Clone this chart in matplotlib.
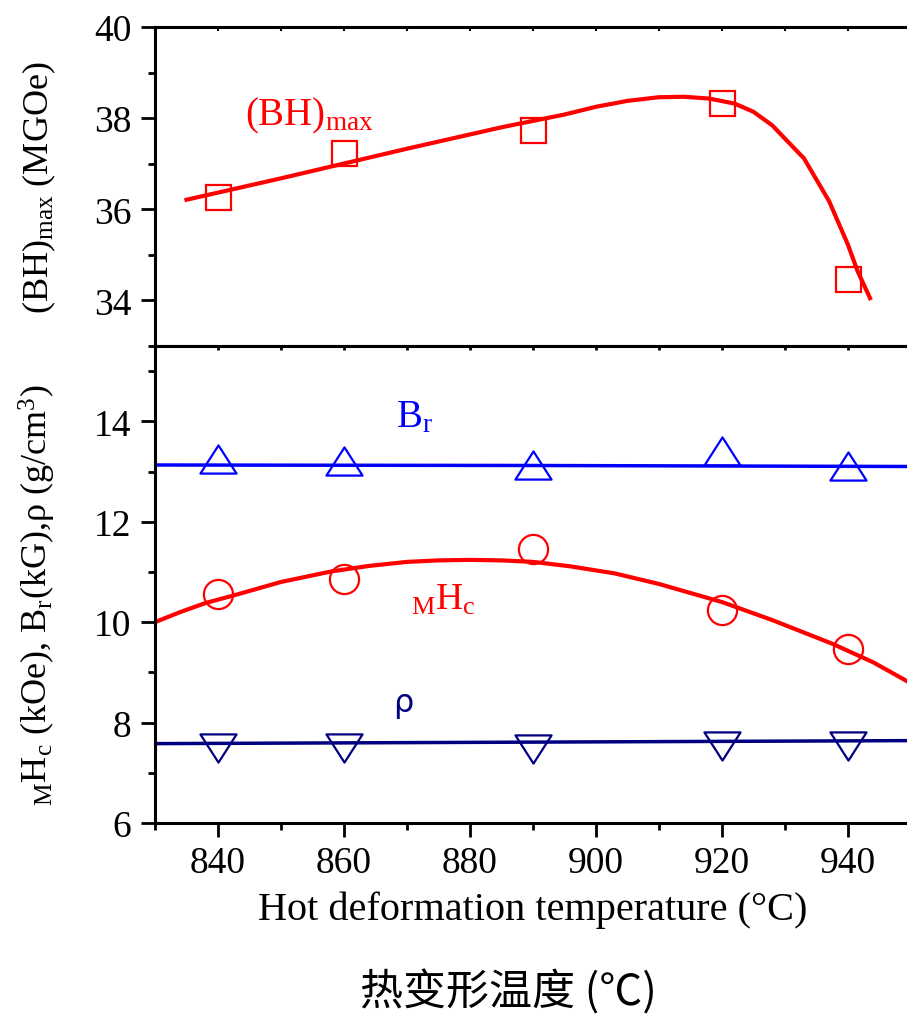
"""
Magnet properties vs hot deformation temperature (two stacked panels)
"""

import matplotlib
matplotlib.use('Agg')
import matplotlib.pyplot as plt
from matplotlib.path import Path
from matplotlib.ticker import MultipleLocator

plt.rcParams['font.family'] = ['Liberation Serif', 'Noto Sans CJK SC', 'DejaVu Sans']
plt.rcParams['mathtext.fontset'] = 'custom'
plt.rcParams['mathtext.rm'] = 'Liberation Serif'
plt.rcParams['mathtext.it'] = 'Liberation Serif:italic'
plt.rcParams['mathtext.bf'] = 'Liberation Serif:bold'

# measured points
temps = [840, 860, 890, 920, 940]
bh_max = [36.28, 37.24, 37.75, 38.33, 34.46]
hc = [10.57, 10.85, 11.45, 10.25, 9.46]
br = [13.25, 13.20, 13.12, 13.41, 13.10]
rho = [7.49, 7.49, 7.48, 7.54, 7.54]

# fitted curves
bh_fit_t = [835, 850, 870, 885, 895, 900, 905, 910, 914, 918, 922, 925, 928, 930, 933, 937, 940, 941.5, 943.5]
bh_fit_v = [36.21, 36.68, 37.33, 37.80, 38.08, 38.25, 38.38, 38.46, 38.47, 38.43, 38.32, 38.14, 37.84,
            37.55, 37.12, 36.18, 35.22, 34.65, 34.05]
hc_fit_t = [830, 834, 838, 843, 850, 858, 864, 870, 875, 880, 885, 890, 896, 903, 910, 920, 928, 937.5, 944, 950]
hc_fit_v = [10.0, 10.20, 10.38, 10.55, 10.80, 11.01, 11.12, 11.20, 11.23, 11.24, 11.23, 11.20, 11.11, 10.97,
            10.76, 10.40, 10.04, 9.57, 9.20, 8.78]
br_fit_t = [830, 890, 950]
br_fit_v = [13.13, 13.12, 13.10]
rho_fit_t = [830, 870, 910, 950]
rho_fit_v = [7.58, 7.60, 7.62, 7.64]

RED = '#ff0000'
BLUE = '#0000ff'
NAVY = '#000080'

tri_codes = [Path.MOVETO, Path.LINETO, Path.LINETO, Path.CLOSEPOLY]
tri_up = Path([(0, 0.78), (-1, -0.78), (1, -0.78), (0, 0.78)], tri_codes)
tri_dn = Path([(0, -0.78), (-1, 0.78), (1, 0.78), (0, -0.78)], tri_codes)

fig = plt.figure(figsize=(9.07, 10.2), dpi=100)
ax_top = fig.add_axes([0.1709, 0.6598, 0.8335, 0.3127])
ax_bot = fig.add_axes([0.1709, 0.1922, 0.8335, 0.4676], sharex=ax_top)

# top panel: (BH)max
ax_top.plot(bh_fit_t, bh_fit_v, '-', color=RED, linewidth=3)
ax_top.plot(temps, bh_max, 's', color=RED, markerfacecolor='none', markersize=18,
            markeredgewidth=1.6, linestyle='none')
ax_top.text(844.3, 37.87, r'(BH)$_{\rm max}$', color=RED, fontsize=28, ha='left', va='baseline')

# bottom panel: Br, Hc, rho
ax_bot.plot(br_fit_t, br_fit_v, '-', color=BLUE, linewidth=2.5)
ax_bot.plot(temps, br, marker=tri_up, color=BLUE, markerfacecolor='none', markersize=26,
            markeredgewidth=1.6, linestyle='none')
ax_bot.plot(hc_fit_t, hc_fit_v, '-', color=RED, linewidth=3)
ax_bot.plot(temps, hc, 'o', color=RED, markerfacecolor='none', markersize=21,
            markeredgewidth=1.6, linestyle='none')
ax_bot.plot(rho_fit_t, rho_fit_v, '-', color=NAVY, linewidth=2.5)
ax_bot.plot(temps, rho, marker=tri_dn, color=NAVY, markerfacecolor='none', markersize=26,
            markeredgewidth=1.6, linestyle='none')

ax_bot.text(868.3, 13.90, r'B$_{\rm r}$', color=BLUE, fontsize=28, ha='left', va='baseline')
ax_bot.text(870.6, 10.27, r'${}_{\rm M}{\rm H}_{\rm c}$', color=RED, fontsize=27, ha='left', va='baseline')
ax_bot.text(867.8, 8.23, 'ρ', color=NAVY, fontsize=23, family=['DejaVu Sans'], ha='left', va='baseline')

# axes styling
ax_top.set_xlim(830, 950)
ax_top.set_ylim(33, 40)
ax_bot.set_ylim(6, 15.5)

for ax in (ax_top, ax_bot):
    for side in ('left', 'top', 'bottom'):
        ax.spines[side].set_linewidth(2.2)
    ax.spines['right'].set_visible(False)
    ax.xaxis.set_major_locator(MultipleLocator(20))
    ax.xaxis.set_minor_locator(MultipleLocator(10))
    ax.yaxis.set_major_locator(MultipleLocator(2))
    ax.yaxis.set_minor_locator(MultipleLocator(1))
    ax.tick_params(axis='y', which='major', direction='out', length=10, width=2, labelsize=27, pad=7)
    ax.tick_params(axis='y', which='minor', direction='out', length=5, width=2)
    ax.tick_params(axis='y', right=False, which='both')

ax_top.tick_params(axis='x', which='both', top=True, bottom=False, labelbottom=False,
                   direction='in', length=3, width=1.5)
ax_bot.tick_params(axis='x', which='major', top=True, direction='out', length=10, width=2,
                   labelsize=27, pad=6)
ax_bot.tick_params(axis='x', which='minor', top=True, direction='out', length=5, width=2)
# ticks on the shared divider point inward and are tiny
for tick in ax_bot.xaxis.get_major_ticks() + ax_bot.xaxis.get_minor_ticks():
    tick.tick2line.set_markersize(3)
    tick.tick2line.set_marker(3)

ax_top.set_ylabel(r'(BH)$_{\rm max}$ (MGOe)', fontsize=26)
ax_bot.set_ylabel(r'${}_{\rm M}{\rm H}_{\rm c}$ (kOe), B$_{\rm r}$(kG),ρ (g/cm$^3$)', fontsize=26)
ax_top.yaxis.set_label_coords(-0.128, 0.5)
ax_bot.yaxis.set_label_coords(-0.128, 0.48)

ax_bot.set_xlabel('Hot deformation temperature (°C)', fontsize=29, labelpad=8)

fig.text(0.561, 0.0265, '热变形温度 (℃)', fontsize=31, ha='center', va='center',
         family=['Noto Sans CJK SC'])

plt.savefig('out.png', dpi=100)
plt.close()
